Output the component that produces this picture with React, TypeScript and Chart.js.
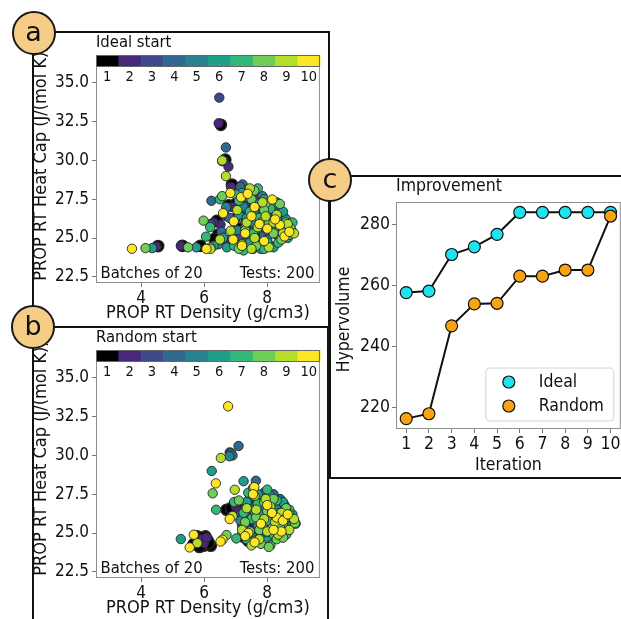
import React, { useEffect, useRef } from 'react';
import { Chart, registerables } from 'chart.js';

Chart.register(...registerables);

const FONT = "'DejaVu Sans Condensed', 'DejaVu Sans', sans-serif";

// ---- shared batch colour scale (batch 1 .. 10) ----
const batchLabels = ['1', '2', '3', '4', '5', '6', '7', '8', '9', '10'];
const batchColors = ['#000000', '#482878', '#3e4989', '#31688e', '#26828e', '#1f9e89', '#35b779', '#6ece58', '#b5de2b', '#fde725'];

// ---- scatter axes ----
const densityTicks = [4, 6, 8];
const heatCapTicks = [22.5, 25.0, 27.5, 30.0, 32.5, 35.0];
const densityTitle = 'PROP RT Density (g/cm3)';
const heatCapTitle = 'PROP RT Heat Cap (J/(mol K))';
const batchNote = 'Batches of 20';
const testsNote = 'Tests: 200';

// ---- Ideal start: [density, heat capacity] per batch ----
const idealBatch1 = [[6.53, 32.3], [6.67, 30.05], [6.88, 28.45], [6.78, 27.1], [6.4, 26.1], [6.94, 26.2], [6.45, 25.22], [6.33, 24.94], [5.88, 24.5], [5.31, 24.5], [4.54, 24.48], [7.0, 27.2], [7.35, 25.8], [7.45, 26.5], [7.55, 25.0], [7.2, 24.4], [7.8, 25.5], [8.0, 26.0], [7.65, 24.8], [7.1, 25.6]];
const idealBatch2 = [[6.46, 32.4], [6.62, 30.0], [6.77, 29.6], [6.85, 28.3], [6.52, 25.86], [6.71, 24.87], [5.26, 24.5], [4.49, 24.45], [7.43, 26.98], [7.3, 26.3], [7.5, 25.4], [7.75, 24.4], [7.25, 25.2], [7.6, 26.2], [7.9, 24.9], [6.9, 27.0], [7.15, 27.2], [8.1, 25.3], [7.4, 24.7], [6.3, 26.0]];
const idealBatch3 = [[6.48, 34.05], [6.57, 29.95], [6.66, 26.44], [7.2, 28.4], [7.3, 27.3], [7.5, 26.1], [7.7, 25.1], [7.4, 25.6], [7.85, 26.4], [7.6, 27.5], [8.0, 25.8], [7.2, 26.8], [7.95, 24.6], [7.35, 24.9], [8.2, 26.3], [7.7, 26.8], [7.1, 25.0], [6.2, 25.9], [8.3, 25.2], [7.55, 24.3]];
const idealBatch4 = [[6.69, 30.84], [6.23, 27.4], [7.22, 28.45], [7.15, 28.3], [7.4, 27.6], [7.6, 26.6], [7.8, 25.9], [8.2, 26.8], [8.4, 26.0], [7.3, 26.0], [6.8, 26.3], [8.0, 27.0], [7.5, 24.9], [8.6, 25.6], [7.9, 25.2], [8.1, 24.5], [6.55, 25.4], [7.65, 28.0], [8.3, 27.3], [7.0, 24.6]];
const idealBatch5 = [[6.7, 27.0], [7.25, 27.0], [7.05, 25.5], [7.7, 27.2], [7.9, 26.6], [8.1, 25.8], [8.35, 26.5], [8.5, 25.1], [7.4, 25.2], [7.6, 24.6], [8.0, 24.9], [8.7, 25.9], [7.85, 27.7], [6.45, 24.6], [8.25, 25.5], [7.3, 25.7], [8.55, 26.3], [7.55, 26.0], [8.8, 25.4], [8.0, 26.2]];
const idealBatch6 = [[4.35, 24.35], [5.75, 24.4], [6.72, 24.4], [6.3, 24.5], [7.2, 27.9], [7.45, 24.7], [8.78, 25.4], [8.6, 26.2], [8.2, 24.4], [7.9, 27.5], [8.4, 25.7], [7.1, 26.5], [7.7, 25.6], [8.0, 25.5], [8.5, 26.7], [6.6, 25.0], [8.15, 27.1], [7.35, 26.3], [7.8, 24.3], [8.65, 25.0]];
const idealBatch7 = [[6.6, 30.0], [6.19, 25.7], [6.06, 25.09], [6.5, 27.5], [7.0, 27.8], [7.7, 28.2], [8.3, 26.2], [7.9, 24.3], [8.5, 25.6], [8.1, 26.9], [7.55, 25.3], [8.7, 25.2], [6.95, 24.5], [7.45, 26.7], [8.35, 24.7], [7.1, 27.4], [8.8, 26.0], [7.75, 26.3], [8.0, 24.7], [7.25, 24.2]];
const idealBatch8 = [[4.14, 24.35], [5.49, 24.4], [5.98, 26.12], [6.57, 27.7], [6.2, 24.4], [7.59, 28.06], [7.95, 27.24], [8.4, 27.2], [8.6, 26.0], [7.3, 25.5], [7.8, 26.0], [8.2, 25.3], [7.5, 27.5], [8.05, 25.9], [8.45, 24.9], [7.65, 24.5], [7.1, 24.3], [8.75, 25.6], [7.9, 26.8], [6.9, 25.0]];
const idealBatch9 = [[6.57, 30.0], [6.69, 28.99], [6.84, 25.47], [7.85, 27.3], [7.45, 28.2], [7.35, 26.0], [7.7, 25.7], [8.2, 26.0], [8.5, 25.3], [8.05, 24.4], [7.2, 24.6], [6.5, 24.9], [8.3, 26.5], [7.6, 25.0], [7.95, 26.4], [8.65, 25.9], [7.05, 26.8], [8.85, 25.3], [7.5, 24.3], [6.2, 24.3]];
const idealBatch10 = [[3.71, 24.31], [6.07, 24.3], [6.83, 27.9], [7.17, 27.63], [7.38, 27.85], [8.16, 27.48], [6.94, 26.08], [6.92, 24.9], [7.2, 24.5], [7.5, 26.4], [7.75, 25.9], [8.0, 25.6], [8.4, 25.85], [8.55, 25.1], [7.9, 24.8], [7.6, 27.0], [8.25, 26.2], [7.3, 25.3], [6.6, 26.6], [8.7, 25.4]];
const idealBatches = [idealBatch1, idealBatch2, idealBatch3, idealBatch4, idealBatch5, idealBatch6, idealBatch7, idealBatch8, idealBatch9, idealBatch10];

// ---- Random start: [density, heat capacity] per batch ----
const randomBatch1 = [[5.78, 24.78], [6.04, 24.78], [5.98, 24.18], [6.21, 24.18], [5.67, 24.29], [5.9, 24.5], [6.1, 24.55], [5.85, 24.1], [6.71, 26.5], [7.02, 26.87], [7.28, 24.72], [7.4, 24.5], [6.15, 24.35], [5.95, 24.7], [7.5, 25.6], [7.7, 26.3], [7.3, 25.9], [8.0, 25.4], [7.6, 24.9], [6.85, 26.6]];
const randomBatch2 = [[5.92, 24.6], [6.0, 24.35], [6.08, 24.7], [7.0, 26.7], [7.3, 26.2], [7.45, 25.5], [7.6, 26.6], [7.2, 26.0], [7.8, 25.2], [7.5, 24.6], [7.7, 25.8], [8.1, 25.0], [7.35, 26.9], [7.9, 26.2], [7.4, 25.2], [8.2, 25.5], [7.55, 27.0], [7.1, 26.4], [7.65, 25.4], [8.0, 24.8]];
const randomBatch3 = [[6.81, 30.2], [7.4, 26.3], [7.6, 25.8], [7.2, 25.5], [7.8, 26.5], [7.5, 27.1], [8.0, 26.0], [7.3, 25.0], [7.9, 25.6], [8.2, 26.4], [7.7, 24.8], [8.4, 25.3], [7.45, 26.7], [8.1, 27.0], [7.65, 26.1], [7.15, 26.2], [8.3, 25.8], [7.85, 24.9], [8.5, 26.3], [7.35, 25.7]];
const randomBatch4 = [[7.09, 30.61], [6.86, 30.15], [6.9, 30.0], [7.64, 28.37], [8.41, 27.19], [7.9, 27.6], [8.2, 27.5], [7.5, 26.0], [8.6, 26.3], [7.8, 25.0], [8.05, 26.5], [8.35, 25.0], [7.3, 26.5], [7.7, 27.2], [8.5, 25.7], [8.75, 26.0], [7.95, 24.6], [7.25, 25.4], [8.15, 25.9], [7.55, 27.4]];
const randomBatch5 = [[6.8, 29.95], [7.0, 27.0], [7.3, 25.3], [7.7, 25.5], [8.0, 27.3], [8.3, 26.6], [8.6, 25.4], [7.4, 26.0], [7.9, 26.9], [8.15, 24.9], [7.6, 24.4], [8.45, 26.1], [8.7, 25.5], [7.75, 26.6], [8.25, 25.2], [7.15, 25.8], [8.05, 26.2], [7.45, 27.3], [8.55, 26.8], [7.85, 25.9]];
const randomBatch6 = [[6.24, 29.0], [5.26, 24.61], [7.25, 28.34], [7.7, 27.5], [8.1, 27.4], [8.5, 27.0], [8.8, 26.2], [7.5, 24.8], [8.0, 24.5], [8.35, 25.6], [7.2, 24.9], [8.65, 25.1], [7.8, 26.2], [8.2, 26.0], [7.35, 27.0], [8.45, 24.8], [7.95, 25.3], [8.9, 25.6], [7.6, 26.4], [8.1, 25.6]];
const randomBatch7 = [[6.38, 26.5], [7.02, 24.65], [6.95, 27.0], [7.4, 27.6], [8.0, 27.8], [8.3, 27.1], [8.7, 26.5], [7.6, 24.5], [8.1, 24.2], [7.85, 25.4], [8.4, 26.3], [7.25, 26.3], [8.6, 24.9], [7.5, 25.9], [8.2, 24.9], [8.85, 25.8], [7.7, 26.9], [8.0, 25.8], [7.35, 24.6], [8.5, 25.5]];
const randomBatch8 = [[6.27, 27.56], [6.71, 24.87], [7.1, 27.1], [7.55, 27.9], [8.2, 27.2], [8.88, 25.64], [8.6, 26.6], [7.8, 24.3], [8.0, 26.4], [8.4, 25.4], [7.45, 25.1], [7.9, 27.0], [8.3, 24.6], [7.65, 26.0], [8.7, 26.2], [8.15, 25.3], [7.3, 25.7], [8.5, 24.7], [7.75, 25.2], [8.05, 24.1]];
const randomBatch9 = [[6.53, 29.84], [6.97, 27.79], [5.78, 24.35], [7.6, 27.4], [8.1, 26.7], [8.45, 26.3], [8.7, 25.2], [7.5, 24.2], [7.9, 25.9], [8.25, 25.7], [7.35, 26.6], [7.75, 24.6], [8.55, 25.9], [8.0, 25.1], [7.2, 25.2], [8.35, 24.9], [7.65, 26.5], [8.85, 25.9], [7.95, 27.2], [6.9, 26.1]];
const randomBatch10 = [[6.76, 33.17], [6.37, 28.2], [6.81, 25.9], [6.58, 24.57], [5.67, 24.89], [5.54, 24.07], [6.52, 24.45], [7.59, 27.96], [7.55, 27.5], [8.0, 26.8], [8.3, 26.0], [8.5, 25.8], [8.45, 25.1], [7.8, 25.6], [7.4, 25.0], [7.6, 24.4], [8.15, 26.3], [7.3, 24.8], [8.65, 26.2], [8.2, 25.2]];
const randomBatches = [randomBatch1, randomBatch2, randomBatch3, randomBatch4, randomBatch5, randomBatch6, randomBatch7, randomBatch8, randomBatch9, randomBatch10];

// ---- Improvement per iteration ----
const iterations = [1, 2, 3, 4, 5, 6, 7, 8, 9, 10];
const idealHypervolume = [257.6, 258.1, 270.1, 272.6, 276.7, 283.9, 283.9, 283.9, 283.9, 283.9];
const randomHypervolume = [216.3, 217.9, 246.7, 253.9, 254.1, 263.0, 263.0, 265.0, 265.0, 282.7];
const hypervolumeTicks = [220, 240, 260, 280];
const seriesNames = ['Ideal', 'Random'];
const seriesColors = ['#1fe3ee', '#f8a30f'];

type Pt = number[];

function ScatterPanel({ batches, title, left, top }: { batches: Pt[][]; title: string; left: number; top: number }) {
  const ref = useRef<HTMLCanvasElement>(null);
  useEffect(() => {
    const canvas = ref.current!;
    const decor = {
      id: 'panelDecor',
      afterDraw(chart: any) {
        const { ctx } = chart;
        const { left: l, top: t, right: r, bottom: b } = chart.chartArea;
        ctx.save();
        // axes frame
        ctx.strokeStyle = '#8e8e8e';
        ctx.lineWidth = 1;
        ctx.strokeRect(l + 0.5, t + 0.5, r - l - 1, b - t - 1);
        // batch colour bar
        const cw = (r - l) / batchColors.length;
        batchColors.forEach((c, i) => {
          ctx.fillStyle = c;
          ctx.fillRect(l + i * cw, t, cw + 0.6, 11);
        });
        ctx.strokeStyle = '#666';
        ctx.strokeRect(l + 0.5, t + 0.5, r - l - 1, 11);
        ctx.fillStyle = '#111';
        ctx.textBaseline = 'middle';
        ctx.textAlign = 'center';
        ctx.font = `14.5px ${FONT}`;
        batchLabels.forEach((s, i) => ctx.fillText(s, l + (i + 0.5) * cw, t + 22));
        // titles and notes
        ctx.font = `16.5px ${FONT}`;
        ctx.textAlign = 'left';
        ctx.fillText(title, l, t - 12);
        ctx.fillText(batchNote, l + 4.5, b - 9);
        ctx.textAlign = 'right';
        ctx.fillText(testsNote, r - 5.5, b - 9);
        ctx.font = `18px ${FONT}`;
        ctx.textAlign = 'center';
        ctx.fillText(densityTitle, (l + r) / 2, b + 30);
        ctx.translate(10, (t + b) / 2 - 6);
        ctx.rotate(-Math.PI / 2);
        ctx.fillText(heatCapTitle, 0, 0);
        ctx.restore();
      },
    };
    const chart = new Chart(canvas, {
      type: 'scatter',
      data: {
        datasets: batches.map((pts, i) => ({
          label: batchLabels[i],
          data: pts.map(([x, y]) => ({ x, y })),
          backgroundColor: batchColors[i],
          borderColor: '#262626',
          borderWidth: i === 0 ? 1.5 : 0.9,
          pointRadius: i === 0 ? 5.6 : 4.7,
          order: batches.length - i,
        })),
      },
      options: {
        responsive: false,
        animation: false,
        events: [],
        layout: { padding: { left: 0, top: 21, right: 2, bottom: 1 } },
        plugins: { legend: { display: false }, tooltip: { enabled: false } },
        scales: {
          x: {
            type: 'linear',
            min: 2.57,
            max: 9.67,
            afterBuildTicks: (s: any) => { s.ticks = densityTicks.map((v) => ({ value: v })); },
            afterFit: (s: any) => { s.height = 40; },
            grid: { drawOnChartArea: false, drawTicks: true, tickLength: 4, color: '#777' },
            border: { display: false },
            ticks: { color: '#111', font: { family: FONT, size: 17 }, padding: 1, maxRotation: 0 },
          },
          y: {
            type: 'linear',
            min: 22.1,
            max: 36.8,
            afterBuildTicks: (s: any) => { s.ticks = heatCapTicks.map((v) => ({ value: v })); },
            afterFit: (s: any) => { s.width = 65; },
            grid: { drawOnChartArea: false, drawTicks: true, tickLength: 4, color: '#777' },
            border: { display: false },
            ticks: { color: '#111', font: { family: FONT, size: 17 }, padding: 3, callback: (v: any) => Number(v).toFixed(1) },
          },
        },
      },
      plugins: [decor],
    });
    return () => chart.destroy();
  }, [batches, title]);
  return <canvas ref={ref} width={296} height={290} style={{ position: 'absolute', left, top }} />;
}

function ImprovementPanel() {
  const ref = useRef<HTMLCanvasElement>(null);
  useEffect(() => {
    const canvas = ref.current!;
    const decor = {
      id: 'improvementDecor',
      afterDraw(chart: any) {
        const { ctx } = chart;
        const { left: l, top: t, right: r, bottom: b } = chart.chartArea;
        ctx.save();
        ctx.strokeStyle = '#8e8e8e';
        ctx.lineWidth = 1;
        ctx.strokeRect(l + 0.5, t + 0.5, r - l - 1, b - t - 1);
        ctx.fillStyle = '#111';
        ctx.textBaseline = 'middle';
        ctx.font = `17.5px ${FONT}`;
        ctx.textAlign = 'left';
        ctx.fillText('Improvement', l, t - 16);
        ctx.textAlign = 'center';
        ctx.fillText('Iteration', (l + r) / 2, b + 36);
        // legend
        const bw = 128, bh = 53;
        const bx = r - 7 - bw, by = b - 8 - bh;
        ctx.beginPath();
        ctx.roundRect(bx, by, bw, bh, 4);
        ctx.fillStyle = 'rgba(255,255,255,0.85)';
        ctx.fill();
        ctx.strokeStyle = '#d4d4d4';
        ctx.stroke();
        seriesNames.forEach((name, i) => {
          const cy = by + 14 + i * 24;
          ctx.beginPath();
          ctx.arc(bx + 23, cy, 6, 0, Math.PI * 2);
          ctx.fillStyle = seriesColors[i];
          ctx.fill();
          ctx.lineWidth = 1.2;
          ctx.strokeStyle = '#111';
          ctx.stroke();
          ctx.fillStyle = '#111';
          ctx.textAlign = 'left';
          ctx.fillText(name, bx + 53, cy);
        });
        ctx.translate(12.5, (t + b) / 2 + 4);
        ctx.rotate(-Math.PI / 2);
        ctx.textAlign = 'center';
        ctx.fillText('Hypervolume', 0, 0);
        ctx.restore();
      },
    };
    const series = [idealHypervolume, randomHypervolume];
    const chart = new Chart(canvas, {
      type: 'line',
      data: {
        datasets: series.map((vals, i) => ({
          label: seriesNames[i],
          data: iterations.map((x, k) => ({ x, y: vals[k] })),
          borderColor: '#111',
          borderWidth: 2,
          pointBackgroundColor: seriesColors[i],
          pointBorderColor: '#111',
          pointBorderWidth: 1.2,
          pointRadius: 6,
          tension: 0,
          order: series.length - i,
        })),
      },
      options: {
        responsive: false,
        animation: false,
        events: [],
        layout: { padding: { left: 0, top: 24, right: 4, bottom: 0 } },
        plugins: { legend: { display: false }, tooltip: { enabled: false } },
        scales: {
          x: {
            type: 'linear',
            min: 0.55,
            max: 10.45,
            afterBuildTicks: (s: any) => { s.ticks = iterations.map((v) => ({ value: v })); },
            afterFit: (s: any) => { s.height = 47; },
            grid: { drawOnChartArea: false, drawTicks: true, tickLength: 4, color: '#777' },
            border: { display: false },
            ticks: { color: '#111', font: { family: FONT, size: 17.5 }, padding: 1, maxRotation: 0, autoSkip: false },
          },
          y: {
            type: 'linear',
            min: 212.9,
            max: 287.3,
            afterBuildTicks: (s: any) => { s.ticks = hypervolumeTicks.map((v) => ({ value: v })); },
            afterFit: (s: any) => { s.width = 64; },
            grid: { drawOnChartArea: false, drawTicks: true, tickLength: 4, color: '#777' },
            border: { display: false },
            ticks: { color: '#111', font: { family: FONT, size: 17.5 }, padding: 2 },
          },
        },
      },
      plugins: [decor],
    });
    return () => chart.destroy();
  }, []);
  return <canvas ref={ref} width={296} height={298} style={{ position: 'absolute', left: 332, top: 178 }} />;
}

function Badge({ letter, cx, cy }: { letter: string; cx: number; cy: number }) {
  return (
    <div
      style={{
        position: 'absolute',
        left: cx - 22,
        top: cy - 22,
        width: 44,
        height: 44,
        boxSizing: 'border-box',
        borderRadius: '50%',
        border: '2px solid #1a1a1a',
        background: '#f6cd86',
        display: 'flex',
        alignItems: 'center',
        justifyContent: 'center',
        fontFamily: "'DejaVu Sans', sans-serif",
        fontSize: 27,
        lineHeight: 1,
        paddingBottom: 3,
        color: '#111',
        zIndex: 5,
      }}
    >
      {letter}
    </div>
  );
}

function Frame({ left, top, width, height }: { left: number; top: number; width: number; height: number }) {
  return (
    <div
      style={{
        position: 'absolute',
        left,
        top,
        width,
        height,
        boxSizing: 'border-box',
        border: '2px solid #111',
      }}
    />
  );
}

export default function App() {
  return (
    <div style={{ position: 'fixed', left: 0, top: 0, width: 621, height: 619, overflow: 'hidden', background: '#fff' }}>
      <Frame left={32} top={31} width={298} height={297} />
      <Frame left={32} top={326} width={297} height={310} />
      <Frame left={329} top={175} width={300} height={304} />
      <ScatterPanel batches={idealBatches} title="Ideal start" left={31} top={34} />
      <ScatterPanel batches={randomBatches} title="Random start" left={31} top={329} />
      <ImprovementPanel />
      <Badge letter="a" cx={33.5} cy={33} />
      <Badge letter="b" cx={33} cy={327} />
      <Badge letter="c" cx={330} cy={180} />
    </div>
  );
}
